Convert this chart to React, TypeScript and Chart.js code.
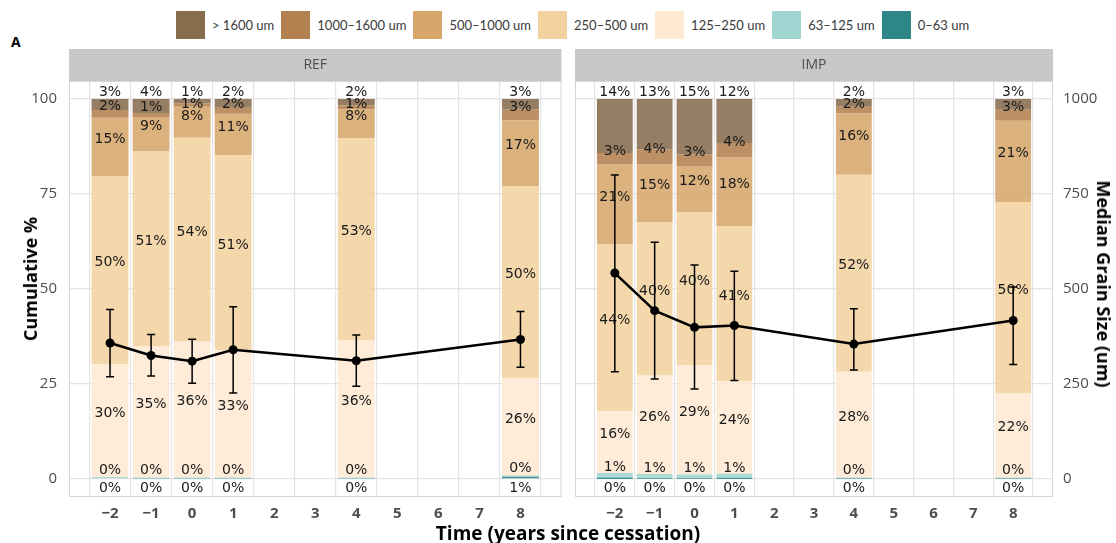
import React, { useEffect, useRef } from 'react';
import { Chart, registerables } from 'chart.js';

Chart.register(...registerables);
Chart.defaults.font.family = '"Open Sans", sans-serif';

// ---------- data ----------
const X_VALUES = [-2, -1, 0, 1, 4, 8];
const X_TICKS = [-2, -1, 0, 1, 2, 3, 4, 5, 6, 7, 8];
const Y_TICKS = [0, 25, 50, 75, 100];
const Y2_TICKS = [0, 250, 500, 750, 1000];

// bottom of the stack first
const CATEGORIES = ['0–63 um', '63–125 um', '125–250 um', '250–500 um', '500–1000 um', '1000–1600 um', '> 1600 um'];
const COLORS = ['#2e8687', '#a0d5d1', '#fee9d3', '#f2d3a0', '#d6a66b', '#b3814f', '#876c4e'];

// REF panel, % per size class at each time
const REF_0_63 = [0.2, 0.1, 0.1, 0.1, 0.1, 0.6];
const REF_63_125 = [0.3, 0.3, 0.3, 0.3, 0.3, 0.3];
const REF_125_250 = [29.6, 34.6, 35.8, 33.4, 36.2, 25.7];
const REF_250_500 = [49.6, 51.2, 53.6, 51.4, 53.1, 50.4];
const REF_500_1000 = [15.4, 9.1, 8.2, 10.9, 7.6, 17.4];
const REF_1000_1600 = [2.0, 1.0, 0.9, 1.6, 1.0, 2.9];
const REF_GT1600 = [2.9, 3.7, 1.1, 2.3, 1.7, 2.7];

// IMP panel
const IMP_0_63 = [0.4, 0.2, 0.2, 0.3, 0.1, 0.1];
const IMP_63_125 = [1.2, 1.1, 1.0, 1.1, 0.3, 0.3];
const IMP_125_250 = [16.3, 25.9, 28.8, 24.3, 27.8, 22.1];
const IMP_250_500 = [43.8, 40.4, 40.2, 40.8, 51.9, 50.4];
const IMP_500_1000 = [21.1, 15.2, 12.2, 18.1, 16.1, 21.4];
const IMP_1000_1600 = [3.0, 4.0, 3.0, 3.8, 1.8, 2.9];
const IMP_GT1600 = [14.2, 13.2, 14.6, 11.6, 2.0, 2.8];

// median grain size (um) with error bars
const REF_MEDIAN = [358, 325, 310, 340, 311, 367];
const REF_LOW = [269, 271, 252, 226, 244, 294];
const REF_HIGH = [446, 380, 368, 453, 379, 441];
const IMP_MEDIAN = [542, 443, 399, 404, 355, 417];
const IMP_LOW = [282, 263, 237, 259, 287, 301];
const IMP_HIGH = [800, 623, 563, 547, 448, 505];

const REF_SERIES = [REF_0_63, REF_63_125, REF_125_250, REF_250_500, REF_500_1000, REF_1000_1600, REF_GT1600];
const IMP_SERIES = [IMP_0_63, IMP_63_125, IMP_125_250, IMP_250_500, IMP_500_1000, IMP_1000_1600, IMP_GT1600];

// ---------- styles ----------
const GRID = '#e4e4e4';
const TICK_COLOR = '#4d4d4d';
const LABEL_TOP = 101.8;
const LABEL_BOTTOM = -2.5;
const LABEL_LIFT = 2;
const LABEL_GAP = 12;

function rgba(hex: string, a: number) {
  const n = parseInt(hex.slice(1), 16);
  return `rgba(${(n >> 16) & 255},${(n >> 8) & 255},${n & 255},${a})`;
}
const fmtMinus = (v: number) => (v < 0 ? '−' + Math.abs(v) : String(v));

type PanelCfg = {
  title: string;
  series: number[][];
  median: number[];
  low: number[];
  high: number[];
  left: boolean;
  padLeft: number;
  padRight: number;
};

function makePlugin(p: PanelCfg) {
  return {
    id: 'panel_' + p.title,
    beforeDatasetDraw(chart: any, args: any) {
      if (args.index !== CATEGORIES.length) return;
      const ctx = chart.ctx;
      const xs = chart.scales.x;
      const ys = chart.scales.y;
      const y2 = chart.scales.y2;
      ctx.save();
      // percentage labels
      ctx.font = '14px "DejaVu Sans", sans-serif';
      ctx.fillStyle = '#1a1a1a';
      ctx.textAlign = 'center';
      ctx.textBaseline = 'middle';
      X_VALUES.forEach((xv, i) => {
        const px = xs.getPixelForValue(xv);
        let cum = 0;
        const pys: number[] = [];
        p.series.forEach((s, c) => {
          const v = s[i];
          const mid = cum + v / 2;
          cum += v;
          let yv = mid + LABEL_LIFT;
          if (c === p.series.length - 1) yv = LABEL_TOP;
          if (c === 0) yv = LABEL_BOTTOM;
          pys.push(ys.getPixelForValue(yv));
        });
        const n = pys.length;
        for (let c = n - 2; c >= 1; c--) pys[c] = Math.max(pys[c], pys[c + 1] + LABEL_GAP);
        for (let c = 1; c < n; c++) pys[c] = Math.min(pys[c], pys[c - 1] - LABEL_GAP);
        p.series.forEach((s, c) => {
          ctx.fillText(Math.round(s[i]) + '%', px, pys[c]);
        });
      });
      // error bars
      ctx.strokeStyle = '#000';
      ctx.lineWidth = 1.5;
      X_VALUES.forEach((xv, i) => {
        const px = xs.getPixelForValue(xv);
        const top = y2.getPixelForValue(p.high[i]);
        const bot = y2.getPixelForValue(p.low[i]);
        ctx.beginPath();
        ctx.moveTo(px, top);
        ctx.lineTo(px, bot);
        ctx.moveTo(px - 4, top);
        ctx.lineTo(px + 4, top);
        ctx.moveTo(px - 4, bot);
        ctx.lineTo(px + 4, bot);
        ctx.stroke();
      });
      ctx.restore();
    },
    afterDraw(chart: any) {
      const { ctx, chartArea } = chart;
      const { left, right, top, bottom } = chartArea;
      ctx.save();
      ctx.strokeStyle = '#d6d6d6';
      ctx.lineWidth = 1;
      ctx.strokeRect(left + 0.5, top + 0.5, right - left - 1, bottom - top - 1);
      ctx.fillStyle = '#c8c8c8';
      ctx.fillRect(left, top - 32, right - left, 32);
      ctx.fillStyle = '#4d4d4d';
      ctx.font = '14px "Open Sans", sans-serif';
      ctx.textAlign = 'center';
      ctx.textBaseline = 'middle';
      ctx.fillText(p.title, (left + right) / 2, top - 16);
      ctx.restore();
    },
  };
}

function buildConfig(p: PanelCfg): any {
  const datasets: any[] = CATEGORIES.map((name, c) => ({
    type: 'bar',
    label: name,
    data: X_VALUES.map((x, i) => ({ x, y: p.series[c][i] })),
    backgroundColor: rgba(COLORS[c], 0.88),
    borderWidth: 0,
    yAxisID: 'y',
    xAxisID: 'x',
    stack: 'g',
    order: 1,
    barPercentage: 0.9,
    categoryPercentage: 1,
  }));
  datasets.push({
    type: 'line',
    label: 'Median grain size',
    data: X_VALUES.map((x, i) => ({ x, y: p.median[i] })),
    yAxisID: 'y2',
    xAxisID: 'x',
    borderColor: '#000',
    borderWidth: 2.5,
    pointRadius: 4.5,
    pointBackgroundColor: '#000',
    pointBorderWidth: 0,
    tension: 0,
    order: 0,
  });
  const gridOpts = { color: GRID, lineWidth: 1.2, drawTicks: false };
  return {
    type: 'bar',
    data: { datasets },
    options: {
      responsive: false,
      animation: false,
      devicePixelRatio: 1,
      layout: { padding: { left: p.padLeft, right: p.padRight, top: 81, bottom: 16 } },
      plugins: { legend: { display: false }, tooltip: { enabled: false } },
      scales: {
        x: {
          type: 'linear',
          min: -3,
          max: 9,
          stacked: true,
          offset: false,
          afterBuildTicks: (s: any) => {
            s.ticks = X_TICKS.map((v) => ({ value: v }));
          },
          afterFit: (s: any) => {
            s.height = 30;
          },
          ticks: {
            callback: (v: any) => fmtMinus(Number(v)),
            font: { size: 15, weight: 'bold' },
            color: TICK_COLOR,
            padding: 8,
            autoSkip: false,
            maxRotation: 0,
          },
          grid: gridOpts,
          border: { display: false },
        },
        y: {
          type: 'linear',
          position: 'left',
          display: p.left,
          min: -4.75,
          max: 104.75,
          stacked: true,
          afterBuildTicks: (s: any) => {
            s.ticks = Y_TICKS.map((v) => ({ value: v }));
          },
          afterFit: (s: any) => {
            s.width = p.left ? 69 : 0;
          },
          ticks: { font: { size: 15 }, color: TICK_COLOR, padding: 12, callback: (v: any) => String(v) },
          grid: gridOpts,
          border: { display: false },
        },
        y2: {
          type: 'linear',
          position: 'right',
          display: !p.left,
          min: -47.5,
          max: 1047.5,
          afterBuildTicks: (s: any) => {
            s.ticks = Y2_TICKS.map((v) => ({ value: v }));
          },
          afterFit: (s: any) => {
            s.width = p.left ? 0 : 63;
          },
          ticks: { font: { size: 15 }, color: TICK_COLOR, padding: 10, callback: (v: any) => String(v) },
          grid: gridOpts,
          border: { display: false },
        },
      },
    },
    plugins: [makePlugin(p)],
  };
}

function PanelChart({ cfg, left, width }: { cfg: PanelCfg; left: number; width: number }) {
  const ref = useRef<HTMLCanvasElement>(null);
  useEffect(() => {
    const chart = new Chart(ref.current as HTMLCanvasElement, buildConfig(cfg));
    return () => chart.destroy();
  }, []);
  return (
    <canvas
      ref={ref}
      width={width}
      height={543}
      style={{ position: 'absolute', left, top: 0, width, height: 543 }}
    />
  );
}

const REF_CFG: PanelCfg = {
  title: 'REF',
  series: REF_SERIES,
  median: REF_MEDIAN,
  low: REF_LOW,
  high: REF_HIGH,
  left: true,
  padLeft: 0,
  padRight: 4,
};
const IMP_CFG: PanelCfg = {
  title: 'IMP',
  series: IMP_SERIES,
  median: IMP_MEDIAN,
  low: IMP_LOW,
  high: IMP_HIGH,
  left: false,
  padLeft: 9,
  padRight: 0,
};

function Legend() {
  const order = CATEGORIES.map((c, i) => i).reverse();
  return (
    <div style={{ position: 'absolute', left: 176, top: 11, display: 'flex', alignItems: 'center', height: 28 }}>
      {order.map((i) => (
        <div key={i} style={{ display: 'flex', alignItems: 'center' }}>
          <div style={{ width: 29, height: 28, background: COLORS[i] }} />
          <span style={{ marginLeft: 7, marginRight: 7, font: '13px Lato, sans-serif', color: '#3a3a3a', whiteSpace: 'nowrap' }}>
            {CATEGORIES[i]}
          </span>
        </div>
      ))}
    </div>
  );
}

export default function App() {
  return (
    <div
      style={{
        position: 'absolute',
        left: 0,
        top: 0,
        width: 1116,
        height: 543,
        background: '#fff',
        overflow: 'hidden',
        fontFamily: '"Open Sans", sans-serif',
      }}
    >
      <Legend />
      <div style={{ position: 'absolute', left: 11, top: 34, fontSize: 14, fontWeight: 700, lineHeight: '16px', color: '#000' }}>A</div>
      <PanelChart cfg={REF_CFG} left={0} width={566} />
      <PanelChart cfg={IMP_CFG} left={566} width={550} />
      <div
        style={{
          position: 'absolute',
          left: 30,
          top: 279,
          transform: 'translate(-50%, -50%) rotate(-90deg)',
          whiteSpace: 'nowrap',
          fontSize: 18,
          fontWeight: 700,
          color: '#000',
        }}
      >
        Cumulative %
      </div>
      <div
        style={{
          position: 'absolute',
          left: 1104,
          top: 284,
          transform: 'translate(-50%, -50%) rotate(90deg)',
          whiteSpace: 'nowrap',
          fontSize: 18,
          fontWeight: 700,
          color: '#000',
        }}
      >
        Median Grain Size (um)
      </div>
      <div
        style={{
          position: 'absolute',
          left: 10,
          width: 1116,
          top: 522,
          textAlign: 'center',
          fontSize: 19,
          lineHeight: '22px',
          fontWeight: 700,
          color: '#000',
        }}
      >
        Time (years since cessation)
      </div>
    </div>
  );
}
